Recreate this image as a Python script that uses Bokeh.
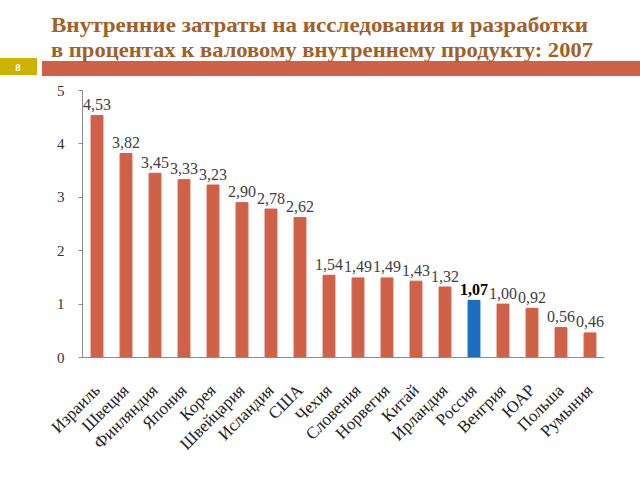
import math
from bokeh.plotting import figure
from bokeh.layouts import column
from bokeh.models import ColumnDataSource, FactorRange, FixedTicker, Range1d, Div
from bokeh.core.properties import value
from bokeh.embed import file_html
from bokeh.resources import INLINE

countries = ["Израиль", "Швеция", "Финляндия", "Япония", "Корея", "Швейцария", "Исландия",
             "США", "Чехия", "Словения", "Норвегия", "Китай", "Ирландия", "Россия",
             "Венгрия", "ЮАР", "Польша", "Румыния"]
values = [4.53, 3.82, 3.45, 3.33, 3.23, 2.90, 2.78, 2.62, 1.54, 1.49, 1.49, 1.43, 1.32,
          1.07, 1.00, 0.92, 0.56, 0.46]
highlight = "Россия"
y_ticks = [0, 1, 2, 3, 4, 5]
title_lines = ["Внутренние затраты на исследования и разработки",
               "в процентах к валовому внутреннему продукту: 2007"]
slide_number = "8"

ORANGE = "#CF6148"
BLUE = "#1A6DBE"
SERIF = "'Liberation Serif', serif"

colors = [BLUE if c == highlight else ORANGE for c in countries]
labels = [f"{v:.2f}".replace(".", ",") for v in values]
styles = ["bold" if c == highlight else "normal" for c in countries]
lcolors = ["#000000" if c == highlight else "#404040" for c in countries]

src = ColumnDataSource(dict(x=countries, top=values, color=colors, label=labels,
                            style=styles, lcolor=lcolors))

W = 640
HH = 82  # header: page y 0..82
TSTYLE = "font-family:'Liberation Serif',serif;font-size:22px;font-weight:bold"
header_svg = f"""
<svg xmlns="http://www.w3.org/2000/svg" width="{W}" height="{HH}" style="display:block">
  <rect x="42" y="61" width="{W - 42}" height="15" fill="{ORANGE}"/>
  <rect x="0" y="58" width="37" height="17" fill="#CDB300"/>
  <text x="18" y="71" text-anchor="middle" fill="white"
        style="font-family:'Liberation Serif',serif;font-size:11px;font-weight:bold">{slide_number}</text>
  <text x="51" y="32" fill="#A35F28" textLength="537" lengthAdjust="spacingAndGlyphs"
        style="{TSTYLE}">{title_lines[0]}</text>
  <text x="51" y="57" fill="#A35F28" textLength="542" lengthAdjust="spacingAndGlyphs"
        style="{TSTYLE}">{title_lines[1]}</text>
</svg>
"""
hdr = Div(text=header_svg, width=W, height=HH, margin=0,
          styles={"padding": "0", "margin": "0", "overflow": "hidden"})

H = 478 - HH
# chart frame in page coords: left 82, right 604, top 90, bottom 357
top_b = 90 - HH
FB = 357 - HH
p = figure(width=W, height=H, x_range=FactorRange(*countries, range_padding=0),
           y_range=Range1d(0, 5), output_backend="svg", toolbar_location=None,
           min_border_left=82, min_border_right=W - 604, min_border_top=top_b,
           min_border_bottom=H - FB, margin=0)
p.outline_line_color = None
p.grid.grid_line_color = None

p.vbar(x="x", top="top", width=0.41, color="color", source=src)
p.text(x="x", y="top", text="label", source=src, text_align="center",
       text_baseline="alphabetic", y_offset=-11, text_font=value(SERIF),
       text_font_size="16px", text_font_style="style", text_color="lcolor")

p.yaxis.ticker = FixedTicker(ticks=y_ticks)
p.yaxis.major_label_text_font = SERIF
p.yaxis.major_label_text_font_size = "15px"
p.yaxis.major_label_text_color = "#333333"
p.yaxis.axis_line_color = "#8c8c8c"
p.yaxis.major_tick_line_color = "#8c8c8c"
p.yaxis.major_tick_out = 4
p.yaxis.major_tick_in = 0
p.yaxis.minor_tick_line_color = None
p.yaxis.major_label_standoff = 14

p.xaxis.axis_line_color = "#8c8c8c"
p.xaxis.major_tick_line_color = None
p.xaxis.major_label_orientation = math.pi / 4
p.xaxis.major_label_text_font = SERIF
p.xaxis.major_label_text_font_size = "17px"
p.xaxis.major_label_text_color = "#222222"
p.xaxis.major_label_standoff = 24

layout = column(hdr, p, spacing=0, margin=0)
open("out.html", "w").write(file_html(layout, INLINE))
